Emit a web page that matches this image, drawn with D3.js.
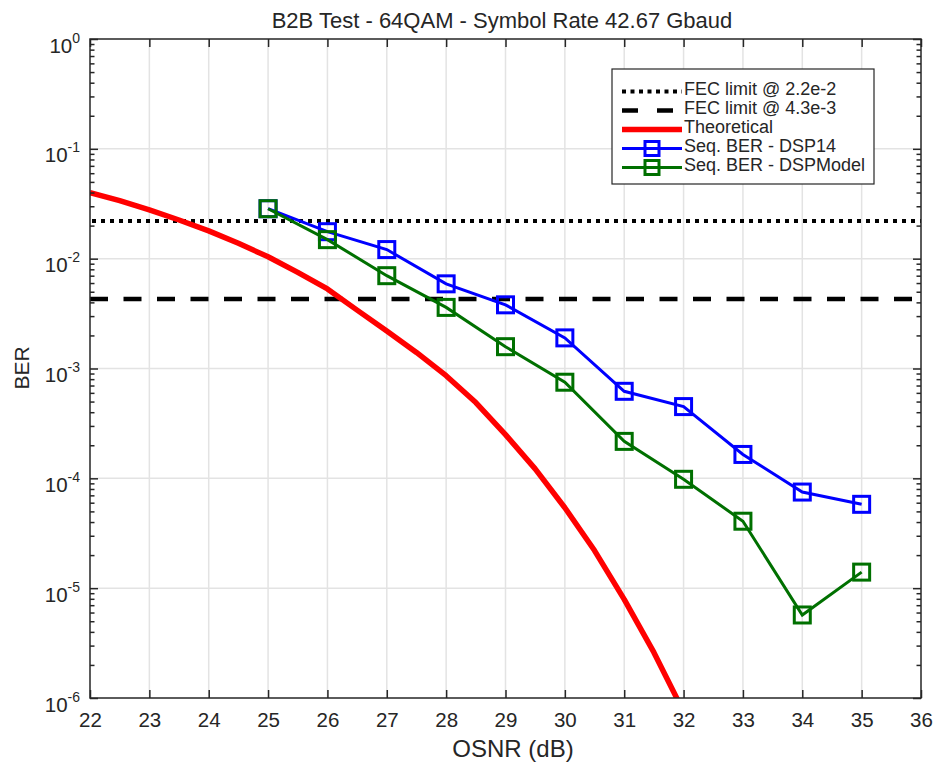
<!DOCTYPE html>
<html>
<head>
<meta charset="utf-8">
<script src="https://cdn.jsdelivr.net/npm/d3@7"></script>
<style>
  html, body { margin: 0; padding: 0; background: #fff; }
  svg { display: block; font-family: "Liberation Sans", Arial, sans-serif; }
</style>
</head>
<body>
<div id="chart"></div>
<script>
// --- Data ---
const osnrPoints = [25, 26, 27, 28, 29, 30, 31, 32, 33, 34, 35];
const berDsp14 = [2.85e-2, 1.76e-2, 1.21e-2, 5.9e-3, 3.8e-3, 1.9e-3, 6.2e-4, 4.5e-4, 1.65e-4, 7.5e-5, 5.8e-5];
const berDspModel = [2.85e-2, 1.49e-2, 7.0e-3, 3.6e-3, 1.58e-3, 7.5e-4, 2.17e-4, 9.8e-5, 4.07e-5, 5.7e-6, 1.4e-5];

const osnrTheory = [22, 22.5, 23, 23.5, 24, 24.5, 25, 25.5, 26, 26.5, 27, 27.5, 28, 28.5, 29, 29.5, 30, 30.5, 31, 31.5, 32];
const berTheory = [0.040, 0.0337, 0.0278, 0.0225, 0.0179, 0.0138, 0.0104, 0.0075, 0.0053, 0.0034, 0.0022,
  0.00140, 0.00086, 0.00049, 0.00025, 0.000122, 5.4e-5, 2.2e-5, 7.9e-6, 2.6e-6, 7.5e-7];

const fecLimits = [2.2e-2, 4.3e-3];
const xTicks = [22, 23, 24, 25, 26, 27, 28, 29, 30, 31, 32, 33, 34, 35, 36];
const yDecades = [-6, -5, -4, -3, -2, -1, 0];
const legendLabels = ['FEC limit @ 2.2e-2', 'FEC limit @ 4.3e-3', 'Theoretical', 'Seq. BER - DSP14', 'Seq. BER - DSPModel'];

const COLORS = {
  axis: '#262626',
  grid: '#e3e3e3',
  red: '#ff0000',
  blue: '#0000ff',
  green: '#007000',
  black: '#000000',
};

const W = 939, H = 765;
const plot = { left: 90, right: 921, top: 39, bottom: 698 };

const svg = d3.select('#chart').append('svg')
  .attr('width', W).attr('height', H);

const x = d3.scaleLinear().domain([22, 36]).range([plot.left, plot.right]);
const y = d3.scaleLog().domain([1e-6, 1]).range([plot.bottom, plot.top]);

const majorY = yDecades.map(e => Math.pow(10, e));
const minorY = [];
yDecades.slice(0, -1).forEach(e => {
  for (let k = 2; k <= 9; k++) minorY.push(k * Math.pow(10, e));
});

// Grid
const grid = svg.append('g');
grid.selectAll('line.gx').data(xTicks.slice(1, -1)).enter().append('line')
  .attr('x1', d => x(d)).attr('x2', d => x(d))
  .attr('y1', plot.top).attr('y2', plot.bottom)
  .attr('stroke', COLORS.grid).attr('stroke-width', 1.5);
grid.selectAll('line.gy').data(majorY.slice(1, -1)).enter().append('line')
  .attr('x1', plot.left).attr('x2', plot.right)
  .attr('y1', d => y(d)).attr('y2', d => y(d))
  .attr('stroke', COLORS.grid).attr('stroke-width', 1.5);

// Clip for data
svg.append('defs').append('clipPath').attr('id', 'plotclip')
  .append('rect')
  .attr('x', plot.left).attr('y', plot.top)
  .attr('width', plot.right - plot.left).attr('height', plot.bottom - plot.top);

const data = svg.append('g').attr('clip-path', 'url(#plotclip)');

// FEC limits
data.append('line')
  .attr('x1', plot.left + 2).attr('x2', plot.right)
  .attr('y1', y(fecLimits[0])).attr('y2', y(fecLimits[0]))
  .attr('stroke', COLORS.black).attr('stroke-width', 4)
  .attr('stroke-dasharray', '4,5');
data.append('line')
  .attr('x1', plot.left).attr('x2', plot.right)
  .attr('y1', y(fecLimits[1])).attr('y2', y(fecLimits[1]))
  .attr('stroke', COLORS.black).attr('stroke-width', 4.5)
  .attr('stroke-dasharray', '18,15.5');

const line = d3.line().x(d => x(d[0])).y(d => y(d[1]));

// Theoretical curve
data.append('path')
  .datum(d3.zip(osnrTheory, berTheory))
  .attr('fill', 'none')
  .attr('stroke', COLORS.red)
  .attr('stroke-width', 5.5)
  .attr('stroke-linejoin', 'round')
  .attr('d', line);

// Measured series
function drawSeries(values, color) {
  const pts = d3.zip(osnrPoints, values);
  data.append('path')
    .datum(pts)
    .attr('fill', 'none')
    .attr('stroke', color)
    .attr('stroke-width', 3)
    .attr('d', line);
  const s = 16;
  data.selectAll(null).data(pts).enter().append('rect')
    .attr('x', d => x(d[0]) - s / 2).attr('y', d => y(d[1]) - s / 2)
    .attr('width', s).attr('height', s)
    .attr('fill', 'none')
    .attr('stroke', color)
    .attr('stroke-width', 3);
}
drawSeries(berDsp14, COLORS.blue);
drawSeries(berDspModel, COLORS.green);

// Axes (ticks inward, on all four sides)
function styleAxis(g) {
  g.select('.domain').remove();
  g.selectAll('.tick line').attr('stroke', COLORS.axis).attr('stroke-width', 1.5);
  g.selectAll('.tick text').attr('fill', COLORS.axis).attr('font-size', '20.5px')
    .attr('font-family', '"Liberation Sans", Arial, sans-serif');
}

svg.append('g')
  .attr('transform', `translate(0,${plot.bottom})`)
  .call(d3.axisBottom(x).tickValues(xTicks).tickSize(-8).tickPadding(14).tickFormat(d3.format('d')))
  .call(styleAxis);

svg.append('g')
  .attr('transform', `translate(0,${plot.top})`)
  .call(d3.axisTop(x).tickValues(xTicks).tickSize(-8).tickFormat(''))
  .call(styleAxis);

const yAxisLeft = svg.append('g')
  .attr('transform', `translate(${plot.left},0)`)
  .call(d3.axisLeft(y).tickValues(majorY).tickSize(-8).tickPadding(10).tickFormat(''))
  .call(styleAxis);

yAxisLeft.selectAll('.tick text').each(function (d) {
  const t = d3.select(this);
  t.attr('dy', '13px');
  t.append('tspan').text('10');
  t.append('tspan')
    .attr('dy', '-10px')
    .attr('font-size', '14px')
    .text(Math.round(Math.log10(d)));
});

svg.append('g')
  .attr('transform', `translate(${plot.left},0)`)
  .call(d3.axisLeft(y).tickValues(minorY).tickSize(-4.5).tickFormat(''))
  .call(styleAxis);

svg.append('g')
  .attr('transform', `translate(${plot.right},0)`)
  .call(d3.axisRight(y).tickValues(majorY).tickSize(-8).tickFormat(''))
  .call(styleAxis);

svg.append('g')
  .attr('transform', `translate(${plot.right},0)`)
  .call(d3.axisRight(y).tickValues(minorY).tickSize(-4.5).tickFormat(''))
  .call(styleAxis);

// Box
svg.append('rect')
  .attr('x', plot.left).attr('y', plot.top)
  .attr('width', plot.right - plot.left).attr('height', plot.bottom - plot.top)
  .attr('fill', 'none')
  .attr('stroke', COLORS.axis)
  .attr('stroke-width', 1.5);

// Title and labels
svg.append('text')
  .attr('x', 502).attr('y', 28)
  .attr('text-anchor', 'middle')
  .attr('fill', COLORS.axis)
  .attr('font-size', '22px')
  .text('B2B Test - 64QAM - Symbol Rate 42.67 Gbaud');

svg.append('text')
  .attr('x', 513).attr('y', 757)
  .attr('text-anchor', 'middle')
  .attr('fill', COLORS.axis)
  .attr('font-size', '24px')
  .text('OSNR (dB)');

svg.append('text')
  .attr('transform', 'translate(29,368) rotate(-90)')
  .attr('text-anchor', 'middle')
  .attr('fill', COLORS.axis)
  .attr('font-size', '21px')
  .text('BER');

// Legend
const leg = { x: 612, y: 69, w: 262, h: 115, row0: 91.5, step: 19 };
svg.append('rect')
  .attr('x', leg.x).attr('y', leg.y)
  .attr('width', leg.w).attr('height', leg.h)
  .attr('fill', '#fff')
  .attr('stroke', COLORS.axis)
  .attr('stroke-width', 1.2);

const legendStyles = [
  { color: COLORS.black, width: 4, dash: '4,4.5', marker: false },
  { color: COLORS.black, width: 4.5, dash: '16,19', marker: false },
  { color: COLORS.red, width: 5.5, dash: null, marker: false },
  { color: COLORS.blue, width: 3, dash: null, marker: true },
  { color: COLORS.green, width: 3, dash: null, marker: true },
];

legendLabels.forEach((label, i) => {
  const ly = leg.row0 + i * leg.step;
  const st = legendStyles[i];
  const ln = svg.append('line')
    .attr('x1', 622).attr('x2', 682)
    .attr('y1', ly).attr('y2', ly)
    .attr('stroke', st.color).attr('stroke-width', st.width);
  if (st.dash) ln.attr('stroke-dasharray', st.dash);
  if (st.marker) {
    svg.append('rect')
      .attr('x', 652 - 7).attr('y', ly - 7)
      .attr('width', 14).attr('height', 14)
      .attr('fill', 'none')
      .attr('stroke', st.color).attr('stroke-width', 3);
  }
  svg.append('text')
    .attr('x', 684).attr('y', ly + 3)
    .attr('fill', COLORS.axis)
    .attr('font-size', '18px')
    .text(label);
});
</script>
</body>
</html>
